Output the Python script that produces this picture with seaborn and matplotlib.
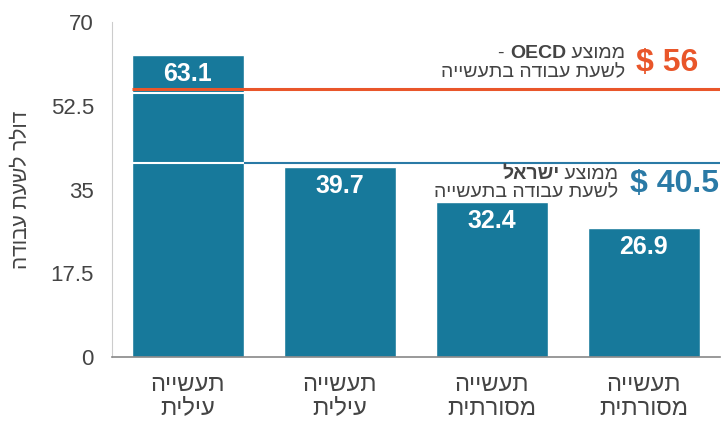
"""Hourly labour cost in industry, Israel vs OECD."""

import matplotlib
matplotlib.use("Agg")
import matplotlib.pyplot as plt
import pandas as pd
import seaborn as sns
from matplotlib.offsetbox import TextArea, HPacker, VPacker, AnnotationBbox

# Data
categories = ["תעשייה עילית", "תעשייה עילית", "תעשייה מסורתית", "תעשייה מסורתית"]
values = [63.1, 39.7, 32.4, 26.9]
oecd_avg = 56
israel_avg = 40.5
y_ticks = [0, 17.5, 35, 52.5, 70]
y_label = "דולר לשעת עבודה"

TEAL = "#17799b"
TEAL_LINE = "#2a7aa6"
ORANGE = "#e9562a"
GREY = "#444444"


def rtl(s):
    """matplotlib has no bidi support, so reverse Hebrew to visual order."""
    return s[::-1]


sns.set_style("white")
plt.rcParams["font.family"] = ["Liberation Sans", "DejaVu Sans"]

df = pd.DataFrame({"pos": range(len(values)), "value": values})

fig = plt.figure(figsize=(7.22, 4.34), dpi=100)
ax = fig.add_axes([0.155, 0.177, 0.842, 0.772])

sns.barplot(data=df, x="pos", y="value", color=TEAL, saturation=1, width=0.74, ax=ax)

# Value labels inside the bars
for i, v in enumerate(values):
    ax.annotate(f"{v}", xy=(i, v), xytext=(0, -5), textcoords="offset points",
                ha="center", va="top", color="white", fontsize=18, fontweight="bold")

half = 0.37
# OECD average line
ax.hlines(oecd_avg - 0.8, -half, half, color="white", lw=1.5, zorder=3)
ax.hlines(oecd_avg, -half, 3.5, color=ORANGE, lw=2.2, zorder=4)
# Israel average line (white across the first bar)
ax.hlines(israel_avg, -half, half, color="white", lw=1.5, zorder=3)
ax.hlines(israel_avg, half, 3.5, color=TEAL_LINE, lw=1.5, zorder=3)

# OECD annotation
reg = dict(color=GREY, fontsize=14)
bold = dict(color=GREY, fontsize=14, fontweight="bold")
oecd_row1 = HPacker(children=[TextArea("- ", textprops=reg),
                              TextArea("OECD", textprops=bold),
                              TextArea(" " + rtl("ממוצע"), textprops=reg)],
                    pad=0, sep=0, align="baseline")
oecd_row2 = TextArea(rtl("לשעת עבודה בתעשייה"), textprops=reg)
oecd_text = VPacker(children=[oecd_row1, oecd_row2], pad=0, sep=1, align="right")
oecd_box = HPacker(children=[oecd_text,
                             TextArea(f"$ {oecd_avg}", textprops=dict(color=ORANGE, fontsize=23,
                                                                       fontweight="bold"))],
                   pad=0, sep=8, align="center")
ab = AnnotationBbox(oecd_box, (0.965, oecd_avg), xycoords=("axes fraction", "data"),
                    box_alignment=(1, 0), xybox=(0, 6), boxcoords="offset points",
                    frameon=False, pad=0)
ax.add_artist(ab)

# Israel annotation
isr_row1 = HPacker(children=[TextArea(rtl("ישראל"), textprops=bold),
                             TextArea(" " + rtl("ממוצע"), textprops=reg)],
                   pad=0, sep=0, align="baseline")
isr_row2 = TextArea(rtl("לשעת עבודה בתעשייה"), textprops=reg)
isr_text = VPacker(children=[isr_row1, isr_row2], pad=0, sep=1, align="right")
isr_box = HPacker(children=[isr_text,
                            TextArea(f"$ {israel_avg}", textprops=dict(color=TEAL_LINE, fontsize=23,
                                                                        fontweight="bold"))],
                  pad=0, sep=8, align="center")
ab2 = AnnotationBbox(isr_box, (0.998, israel_avg), xycoords=("axes fraction", "data"),
                     box_alignment=(1, 1), xybox=(0, -2), boxcoords="offset points",
                     frameon=False, pad=0)
ax.add_artist(ab2)

# Axes styling
ax.set_ylim(0, 70)
ax.set_xlim(-0.5, 3.5)
ax.set_yticks(y_ticks)
ax.set_yticklabels([f"{t:g}" for t in y_ticks])
ax.set_xticks(range(len(categories)))
ax.set_xticklabels(["\n".join(rtl(w) for w in c.split(" ")) for c in categories],
                   linespacing=1.1)
ax.tick_params(axis="y", length=7, color="#bbbbbb", labelsize=16, labelcolor=GREY, pad=6)
ax.tick_params(axis="x", length=0, labelsize=17, labelcolor=GREY, pad=12)
ax.set_xlabel("")
ax.set_ylabel(rtl(y_label), fontsize=15, color=GREY, labelpad=14)

sns.despine(ax=ax)
ax.spines["left"].set_color("#cccccc")
ax.spines["bottom"].set_color("#888888")
ax.spines["bottom"].set_linewidth(1.2)

fig.savefig("out.png", dpi=100)
